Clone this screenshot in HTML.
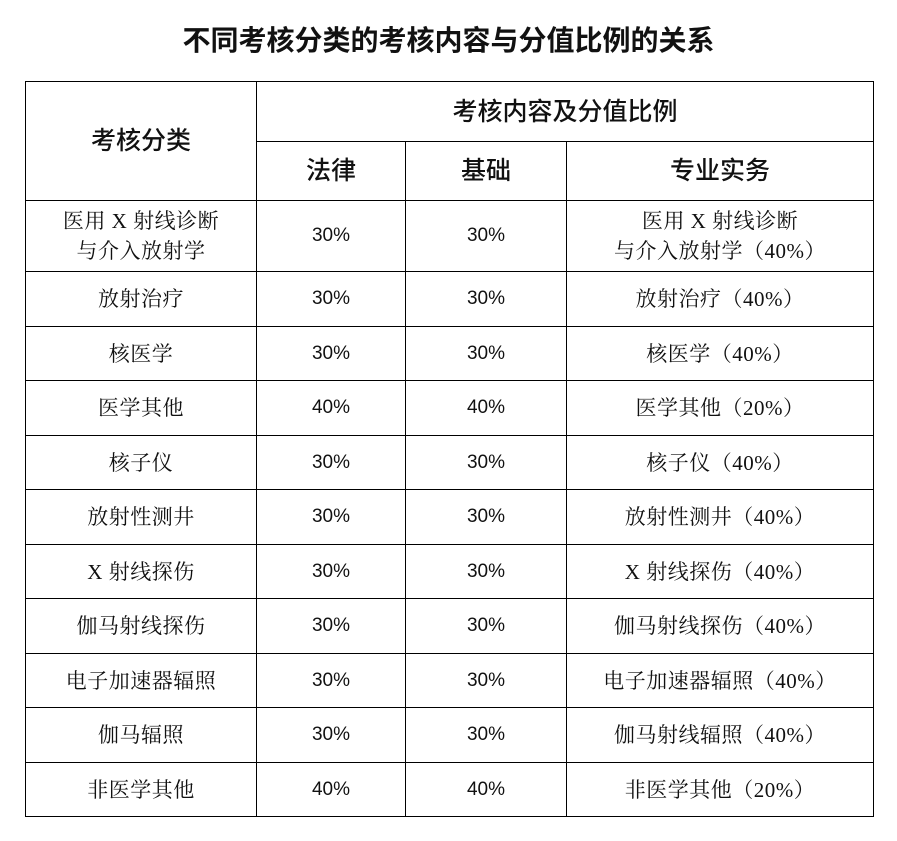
<!DOCTYPE html>
<html><head><meta charset="utf-8"><style>
body{margin:0;width:897px;height:841px;background:#fff;overflow:hidden;font-family:"Liberation Serif","Noto Serif CJK SC",serif;color:#111}
.t{position:absolute;left:0;top:22px;width:897px;text-align:center;font-family:"Liberation Sans","Noto Sans CJK SC",sans-serif;font-weight:bold;font-size:28px;line-height:38px}
table{position:absolute;left:25px;top:81px;border-collapse:collapse;table-layout:fixed}
td{border:1.5px solid #000;text-align:center;font-size:21px;line-height:30px;padding:0;letter-spacing:0.5px}
.h{font-family:"Liberation Sans","Noto Sans CJK SC",sans-serif;font-size:25px;font-weight:500;letter-spacing:0}
.p{font-family:"Liberation Sans",sans-serif;font-size:19px;letter-spacing:0}
</style></head><body>
<div class="t">不同考核分类的考核内容与分值比例的关系</div>
<table>
<colgroup><col style="width:231px"><col style="width:149px"><col style="width:161px"><col style="width:307px"></colgroup>
<tr style="height:60px"><td class="h" rowspan="2">考核分类</td><td class="h" colspan="3">考核内容及分值比例</td></tr>
<tr style="height:59px"><td class="h">法律</td><td class="h">基础</td><td class="h">专业实务</td></tr>
<tr style="height:71px"><td>医用 X 射线诊断<br>与介入放射学</td><td class="p">30%</td><td class="p">30%</td><td>医用 X 射线诊断<br>与介入放射学（40%）</td></tr>
<tr style="height:55px"><td>放射治疗</td><td class="p">30%</td><td class="p">30%</td><td>放射治疗（40%）</td></tr>
<tr style="height:54px"><td>核医学</td><td class="p">30%</td><td class="p">30%</td><td>核医学（40%）</td></tr>
<tr style="height:55px"><td>医学其他</td><td class="p">40%</td><td class="p">40%</td><td>医学其他（20%）</td></tr>
<tr style="height:54px"><td>核子仪</td><td class="p">30%</td><td class="p">30%</td><td>核子仪（40%）</td></tr>
<tr style="height:55px"><td>放射性测井</td><td class="p">30%</td><td class="p">30%</td><td>放射性测井（40%）</td></tr>
<tr style="height:54px"><td>X 射线探伤</td><td class="p">30%</td><td class="p">30%</td><td>X 射线探伤（40%）</td></tr>
<tr style="height:55px"><td>伽马射线探伤</td><td class="p">30%</td><td class="p">30%</td><td>伽马射线探伤（40%）</td></tr>
<tr style="height:54px"><td>电子加速器辐照</td><td class="p">30%</td><td class="p">30%</td><td>电子加速器辐照（40%）</td></tr>
<tr style="height:55px"><td>伽马辐照</td><td class="p">30%</td><td class="p">30%</td><td>伽马射线辐照（40%）</td></tr>
<tr style="height:54px"><td>非医学其他</td><td class="p">40%</td><td class="p">40%</td><td>非医学其他（20%）</td></tr>
</table>
</body></html>
